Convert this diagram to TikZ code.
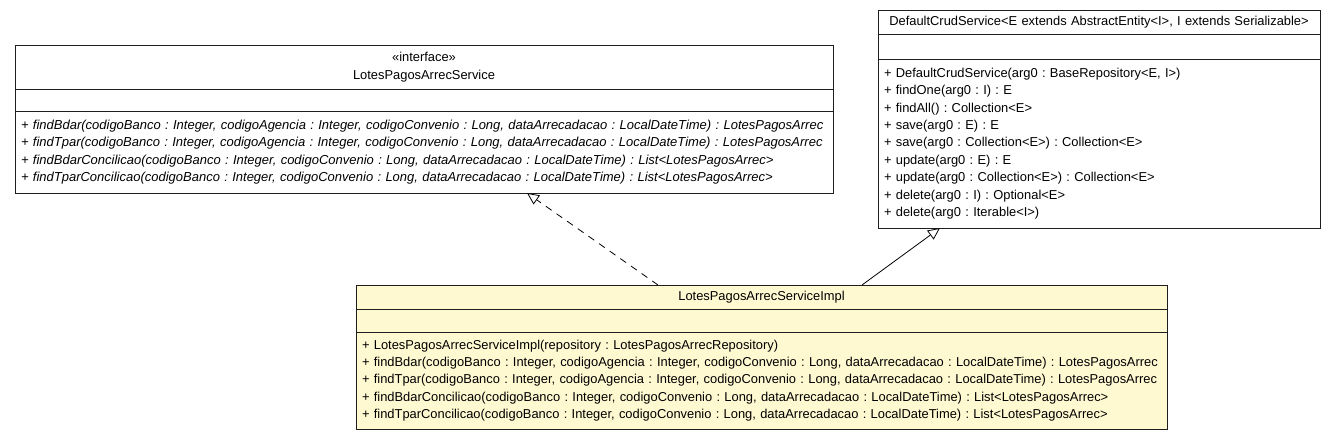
\documentclass[tikz,border=0pt]{standalone}
\usepackage{fontspec}
\setmainfont{Liberation Sans}
\usetikzlibrary{positioning,arrows.meta}
\definecolor{implfill}{RGB}{255,249,210}
\definecolor{umlline}{RGB}{30,30,30}
\frenchspacing

\begin{document}
\begin{tikzpicture}[x=1pt, y=-1pt, node distance=0pt,
    compartment/.style={rectangle, draw=umlline, line width=1pt, inner xsep=6pt, inner ysep=0pt, outer sep=0pt, font=\fontsize{12.9}{17.4}\selectfont},
    titlebox/.style={compartment, align=center},
    membox/.style={compartment, align=left},
    realize/.style={draw=black, line width=0.8pt, dash pattern=on 7pt off 6pt, -{Triangle[open, length=12pt, width=11pt, fill=white]}},
    inherit/.style={draw=black, line width=0.8pt, -{Triangle[open, length=12pt, width=11pt, fill=white]}}]
    \useasboundingbox (0,0) rectangle (1335,440);

    % Interface
    \node[titlebox, anchor=north west, text width=806pt, minimum height=44pt] (service) at (15,45) {«interface»\\LotesPagosArrecService};
    \node[membox, text width=806pt, minimum height=22pt, below=of service] (serviceattr) {};
    \node[membox, text width=806pt, minimum height=82pt, below=of serviceattr, font=\fontsize{13}{17.4}\selectfont\itshape] (serviceops) {+ findBdar(codigoBanco : Integer, codigoAgencia : Integer, codigoConvenio : Long, dataArrecadacao : LocalDateTime) : LotesPagosArrec\\+ findTpar(codigoBanco : Integer, codigoAgencia : Integer, codigoConvenio : Long, dataArrecadacao : LocalDateTime) : LotesPagosArrec\\+ findBdarConcilicao(codigoBanco : Integer, codigoConvenio : Long, dataArrecadacao : LocalDateTime) : List<LotesPagosArrec>\\+ findTparConcilicao(codigoBanco : Integer, codigoConvenio : Long, dataArrecadacao : LocalDateTime) : List<LotesPagosArrec>};

    % Superclass
    \node[titlebox, anchor=north west, text width=430pt, minimum height=24pt] (crud) at (878,10) {DefaultCrudService<E extends AbstractEntity<I>, I extends Serializable>};
    \node[membox, text width=430pt, minimum height=25pt, below=of crud] (crudattr) {};
    \node[membox, text width=430pt, minimum height=169pt, below=of crudattr] (crudops) {+ DefaultCrudService(arg0 : BaseRepository<E, I>)\\+ findOne(arg0 : I) : E\\+ findAll() : Collection<E>\\+ save(arg0 : E) : E\\+ save(arg0 : Collection<E>) : Collection<E>\\+ update(arg0 : E) : E\\+ update(arg0 : Collection<E>) : Collection<E>\\+ delete(arg0 : I) : Optional<E>\\+ delete(arg0 : Iterable<I>)};

    % Implementation
    \node[titlebox, anchor=north west, text width=799pt, minimum height=24pt, fill=implfill] (impl) at (356,285) {LotesPagosArrecServiceImpl};
    \node[membox, text width=799pt, minimum height=23pt, below=of impl, fill=implfill] (implattr) {};
    \node[membox, text width=799pt, minimum height=97pt, below=of implattr, fill=implfill] (implops) {+ LotesPagosArrecServiceImpl(repository : LotesPagosArrecRepository)\\+ findBdar(codigoBanco : Integer, codigoAgencia : Integer, codigoConvenio : Long, dataArrecadacao : LocalDateTime) : LotesPagosArrec\\+ findTpar(codigoBanco : Integer, codigoAgencia : Integer, codigoConvenio : Long, dataArrecadacao : LocalDateTime) : LotesPagosArrec\\+ findBdarConcilicao(codigoBanco : Integer, codigoConvenio : Long, dataArrecadacao : LocalDateTime) : List<LotesPagosArrec>\\+ findTparConcilicao(codigoBanco : Integer, codigoConvenio : Long, dataArrecadacao : LocalDateTime) : List<LotesPagosArrec>};

    % Relations
    \draw[realize] ([xshift=302pt]impl.north west) -- ([xshift=512pt]serviceops.south west);
    \draw[inherit] ([xshift=506pt]impl.north west) -- ([xshift=62pt]crudops.south west);
\end{tikzpicture}
\end{document}
